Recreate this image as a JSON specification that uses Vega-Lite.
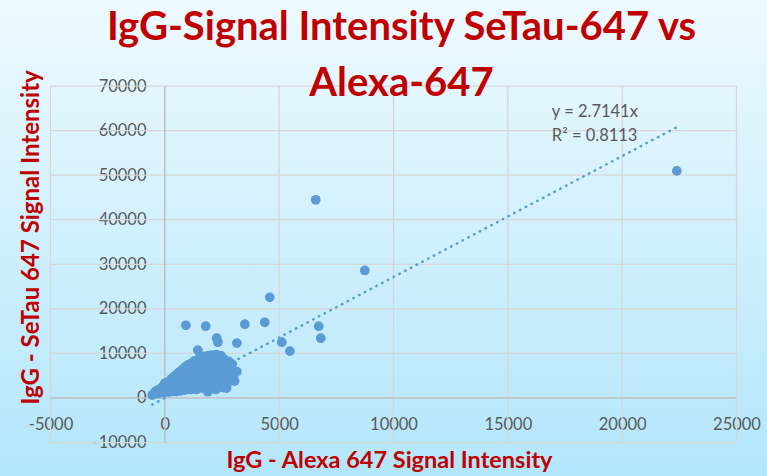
{
  "$schema": "https://vega.github.io/schema/vega-lite/v6.json",
  "width": 767,
  "height": 476,
  "autosize": {"type": "none"},
  "padding": 0,
  "background": "#d2f0fc",
  "title": {
    "text": ["IgG-Signal Intensity SeTau-647 vs", "Alexa-647"],
    "orient": "top",
    "anchor": "middle",
    "frame": "group",
    "font": "Lato",
    "fontSize": 40,
    "fontWeight": "bold",
    "color": "#c00000",
    "lineHeight": 56,
    "baseline": "top",
    "offset": -14,
    "dx": 18,
    "dy": 90
  },
  "datasets": {
    "points": [
      {"x": -550, "y": 650}, {"x": -480, "y": 900}, {"x": -420, "y": 1100}, {"x": -400, "y": 1500}, {"x": -350, "y": 1300},
      {"x": -300, "y": 1800}, {"x": -280, "y": 1000}, {"x": -250, "y": 1400}, {"x": -200, "y": 2000}, {"x": -180, "y": 1200},
      {"x": -150, "y": 1600}, {"x": -120, "y": 2400}, {"x": -100, "y": 1300}, {"x": -80, "y": 1900}, {"x": -50, "y": 2800},
      {"x": -30, "y": 1500}, {"x": 0, "y": 3300}, {"x": 0, "y": 1250}, {"x": 20, "y": 2100}, {"x": 40, "y": 1700},
      {"x": 60, "y": 2600}, {"x": 80, "y": 3000}, {"x": 100, "y": 1400}, {"x": 120, "y": 2200}, {"x": 150, "y": 3400},
      {"x": 160, "y": 1800}, {"x": 180, "y": 2700}, {"x": 200, "y": 1350}, {"x": 220, "y": 3900}, {"x": 240, "y": 2300},
      {"x": 260, "y": 1600}, {"x": 280, "y": 3100}, {"x": 300, "y": 4300}, {"x": 320, "y": 2000}, {"x": 340, "y": 2800},
      {"x": 360, "y": 1500}, {"x": 380, "y": 3600}, {"x": 400, "y": 4800}, {"x": 420, "y": 2500}, {"x": 440, "y": 1700},
      {"x": 460, "y": 3300}, {"x": 480, "y": 2100}, {"x": 500, "y": 5100}, {"x": 500, "y": 1450},
      {"x": 520, "y": 3900}, {"x": 540, "y": 2800}, {"x": 560, "y": 5500}, {"x": 580, "y": 1800}, {"x": 600, "y": 4400},
      {"x": 620, "y": 3200}, {"x": 640, "y": 2300}, {"x": 660, "y": 5900}, {"x": 680, "y": 1600}, {"x": 700, "y": 4800},
      {"x": 720, "y": 3600}, {"x": 740, "y": 2600}, {"x": 760, "y": 6300}, {"x": 780, "y": 2000}, {"x": 800, "y": 5200},
      {"x": 820, "y": 4100}, {"x": 840, "y": 3000}, {"x": 860, "y": 6800}, {"x": 880, "y": 1750}, {"x": 900, "y": 5600},
      {"x": 920, "y": 2400}, {"x": 940, "y": 4600}, {"x": 960, "y": 7200}, {"x": 980, "y": 3400}, {"x": 1000, "y": 2000},
      {"x": 1000, "y": 6000},
      {"x": 1020, "y": 4300}, {"x": 1050, "y": 7500}, {"x": 1070, "y": 2800}, {"x": 1100, "y": 5300}, {"x": 1120, "y": 1900},
      {"x": 1150, "y": 6600}, {"x": 1170, "y": 3600}, {"x": 1200, "y": 7900}, {"x": 1220, "y": 2300}, {"x": 1250, "y": 5000},
      {"x": 1270, "y": 4000}, {"x": 1300, "y": 8300}, {"x": 1320, "y": 2900}, {"x": 1350, "y": 6100}, {"x": 1380, "y": 1900},
      {"x": 1400, "y": 7100}, {"x": 1420, "y": 4500}, {"x": 1450, "y": 3300}, {"x": 1480, "y": 8700}, {"x": 1500, "y": 2400},
      {"x": 1500, "y": 5600},
      {"x": 1530, "y": 9200}, {"x": 1560, "y": 6600}, {"x": 1590, "y": 4100}, {"x": 1620, "y": 2200}, {"x": 1650, "y": 7600},
      {"x": 1680, "y": 3100}, {"x": 1700, "y": 9300}, {"x": 1730, "y": 5300}, {"x": 1760, "y": 2600}, {"x": 1800, "y": 8200},
      {"x": 1820, "y": 4500}, {"x": 1850, "y": 6800}, {"x": 1880, "y": 1400}, {"x": 1900, "y": 9500}, {"x": 1930, "y": 3600},
      {"x": 1960, "y": 5800}, {"x": 2000, "y": 7400}, {"x": 2000, "y": 2200},
      {"x": 2050, "y": 9600}, {"x": 2080, "y": 4600}, {"x": 2100, "y": 3000}, {"x": 2150, "y": 8500}, {"x": 2200, "y": 6300},
      {"x": 2230, "y": 1900}, {"x": 2260, "y": 9700}, {"x": 2300, "y": 5100}, {"x": 2330, "y": 3600}, {"x": 2380, "y": 7800},
      {"x": 2420, "y": 2500}, {"x": 2450, "y": 9500}, {"x": 2500, "y": 6600}, {"x": 2530, "y": 4300}, {"x": 2570, "y": 8800},
      {"x": 2600, "y": 2300},
      {"x": 2650, "y": 7300}, {"x": 2700, "y": 5200}, {"x": 2720, "y": 3200}, {"x": 2800, "y": 8200}, {"x": 2850, "y": 6000},
      {"x": 2900, "y": 4200}, {"x": 2950, "y": 7600}, {"x": 3000, "y": 5000}, {"x": 3050, "y": 3800}, {"x": 3150, "y": 5900},
      {"x": 2700, "y": 2200},
      {"x": 22390, "y": 50950}, {"x": 6600, "y": 44470}, {"x": 8745, "y": 28600}, {"x": 4590, "y": 22570},
      {"x": 4370, "y": 16980}, {"x": 3500, "y": 16540}, {"x": 920, "y": 16310}, {"x": 1790, "y": 16090},
      {"x": 6730, "y": 16090}, {"x": 6820, "y": 13400}, {"x": 2270, "y": 13400}, {"x": 2320, "y": 12510},
      {"x": 3150, "y": 12290}, {"x": 5115, "y": 12510}, {"x": 5470, "y": 10500}, {"x": 1440, "y": 10730}
    ],
    "vgrid": [
      {"x": -5000, "y": -10000, "y2": 70000}, {"x": 5000, "y": -10000, "y2": 70000},
      {"x": 10000, "y": -10000, "y2": 70000}, {"x": 15000, "y": -10000, "y2": 70000},
      {"x": 20000, "y": -10000, "y2": 70000}, {"x": 25000, "y": -10000, "y2": 70000}
    ],
    "hgrid": [
      {"x": -5000, "x2": 25000, "y": -10000}, {"x": -5000, "x2": 25000, "y": 10000},
      {"x": -5000, "x2": 25000, "y": 20000}, {"x": -5000, "x2": 25000, "y": 30000},
      {"x": -5000, "x2": 25000, "y": 40000}, {"x": -5000, "x2": 25000, "y": 50000},
      {"x": -5000, "x2": 25000, "y": 60000}, {"x": -5000, "x2": 25000, "y": 70000}
    ],
    "vzero": [{"x": 0, "y": -10000, "y2": 70000}],
    "hzero": [{"x": -5000, "x2": 25000, "y": 0}],
    "trend": [{"x": -550, "y": -1493}, {"x": 22390, "y": 60769}],
    "eq": [
      {"x": 16924, "y": 63100, "label": "y = 2.7141x"},
      {"x": 16924, "y": 57650, "label": "R² = 0.8113"}
    ]
  },
  "encoding": {
    "x": {
      "field": "x", "type": "quantitative",
      "scale": {"domain": [-7208, 26334], "nice": false, "zero": false},
      "axis": {
        "orient": "bottom", "offset": -78.1,
        "values": [-5000, 0, 5000, 10000, 15000, 20000, 25000],
        "labelExpr": "'' + datum.value",
        "grid": false, "domain": false, "ticks": false,
        "labelPadding": 19, "labelFont": "Lato", "labelFontSize": 16.5, "labelColor": "#595959",
        "labelOverlap": false, "labelFlush": false, "labelBound": false,
        "title": "IgG - Alexa 647 Signal Intensity",
        "titleFont": "Lato", "titleFontSize": 23.5, "titleFontWeight": "bold", "titleColor": "#c00000",
        "titleX": 389, "titleY": 70, "titleBaseline": "alphabetic", "titleAlign": "center"
      }
    },
    "y": {
      "field": "y", "type": "quantitative",
      "scale": {"domain": [-17517, 89299], "nice": false, "zero": false},
      "axis": {
        "orient": "left", "offset": -165,
        "values": [-10000, 0, 10000, 20000, 30000, 40000, 50000, 60000, 70000],
        "labelExpr": "'' + datum.value",
        "grid": false, "domain": false, "ticks": false,
        "labelPadding": 19, "labelFont": "Lato", "labelFontSize": 16.5, "labelColor": "#595959",
        "labelOverlap": false, "labelFlush": false, "labelBound": false,
        "title": "IgG - SeTau 647 Signal Intensity",
        "titleFont": "Lato", "titleFontSize": 24, "titleFontWeight": "bold", "titleColor": "#c00000",
        "titleX": -134, "titleY": 237, "titleAngle": 270, "titleBaseline": "middle", "titleAlign": "center"
      }
    }
  },
  "layer": [
    {"data": {"name": "vgrid"}, "mark": {"type": "rule", "color": "#d6d6d6", "strokeWidth": 1.25}, "encoding": {"y2": {"field": "y2"}}},
    {"data": {"name": "hgrid"}, "mark": {"type": "rule", "color": "#d6d6d6", "strokeWidth": 1.25}, "encoding": {"x2": {"field": "x2"}}},
    {"data": {"name": "vzero"}, "mark": {"type": "rule", "color": "#bfbfbf", "strokeWidth": 1.5}, "encoding": {"y2": {"field": "y2"}}},
    {"data": {"name": "hzero"}, "mark": {"type": "rule", "color": "#bfbfbf", "strokeWidth": 1.5}, "encoding": {"x2": {"field": "x2"}}},
    {"data": {"name": "points"}, "mark": {"type": "circle", "size": 95, "color": "#5b9bd5", "opacity": 1}},
    {"data": {"name": "trend"}, "mark": {"type": "line", "color": "#5b9bd5", "strokeWidth": 2.5, "strokeDash": [0.5, 6], "strokeCap": "round"}},
    {"data": {"name": "eq"}, "mark": {"type": "text", "align": "left", "baseline": "alphabetic", "font": "Lato", "fontSize": 16.5, "color": "#595959"}, "encoding": {"text": {"field": "label"}}}
  ],
  "config": {
    "view": {
      "stroke": null,
      "fill": {"gradient": "linear", "x1": 0, "y1": 0, "x2": 0, "y2": 1,
        "stops": [{"offset": 0, "color": "#eefaff"}, {"offset": 1, "color": "#b3e6fb"}]}
    }
  }
}
